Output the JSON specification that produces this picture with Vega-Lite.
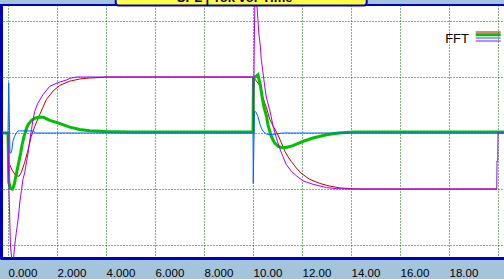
{
  "$schema": "https://vega.github.io/schema/vega-lite/v6.json",
  "width": 506,
  "height": 253,
  "autosize": {"type": "none"},
  "padding": {"left": 0, "top": 5, "right": 0, "bottom": 21},
  "background": "#A4C4DC",
  "config": {"view": {"fill": "#FFFFFF", "stroke": "#0000C0", "strokeWidth": 2}},
  "datasets": {
    "curves": [
      {"s":"Ch1","t":-0.22,"v":0},{"s":"Ch1","t":0,"v":0},{"s":"Ch1","t":0.01,"v":-2},{"s":"Ch1","t":0.15,"v":-2.6},{"s":"Ch1","t":0.3,"v":-3.0},{"s":"Ch1","t":0.45,"v":-3.1},{"s":"Ch1","t":0.55,"v":-2.8},{"s":"Ch1","t":0.68,"v":-2.1},{"s":"Ch1","t":0.82,"v":-1.2},{"s":"Ch1","t":0.95,"v":-0.24},{"s":"Ch1","t":1.09,"v":0.47},{"s":"Ch1","t":1.29,"v":1.3},{"s":"Ch1","t":1.57,"v":2.4},{"s":"Ch1","t":1.84,"v":3.0},{"s":"Ch1","t":2.11,"v":3.4},{"s":"Ch1","t":2.52,"v":3.7},{"s":"Ch1","t":2.93,"v":3.86},{"s":"Ch1","t":3.33,"v":3.93},{"s":"Ch1","t":3.87,"v":3.97},{"s":"Ch1","t":3.95,"v":4.0},{"s":"Ch1","t":10.0,"v":4.0},{"s":"Ch1","t":10.1,"v":3.8},{"s":"Ch1","t":10.27,"v":3.4},{"s":"Ch1","t":10.41,"v":2.5},{"s":"Ch1","t":10.55,"v":1.8},{"s":"Ch1","t":10.68,"v":1.0},{"s":"Ch1","t":10.82,"v":0.5},{"s":"Ch1","t":10.98,"v":0},{"s":"Ch1","t":11.16,"v":-0.7},{"s":"Ch1","t":11.3,"v":-1.3},{"s":"Ch1","t":11.43,"v":-1.7},{"s":"Ch1","t":11.57,"v":-2.05},{"s":"Ch1","t":11.77,"v":-2.5},{"s":"Ch1","t":11.95,"v":-2.85},{"s":"Ch1","t":12.3,"v":-3.3},{"s":"Ch1","t":12.72,"v":-3.6},{"s":"Ch1","t":13.1,"v":-3.78},{"s":"Ch1","t":13.54,"v":-3.92},{"s":"Ch1","t":14.0,"v":-3.98},{"s":"Ch1","t":14.4,"v":-4.0},{"s":"Ch1","t":19.95,"v":-4.0},
      {"s":"Ch2","t":-0.22,"v":0},{"s":"Ch2","t":0,"v":0},{"s":"Ch2","t":0.03,"v":-3.5},{"s":"Ch2","t":0.1,"v":-3.95},{"s":"Ch2","t":0.18,"v":-4.0},{"s":"Ch2","t":0.25,"v":-3.7},{"s":"Ch2","t":0.31,"v":-3.2},{"s":"Ch2","t":0.38,"v":-2.6},{"s":"Ch2","t":0.45,"v":-2.0},{"s":"Ch2","t":0.52,"v":-1.4},{"s":"Ch2","t":0.58,"v":-0.8},{"s":"Ch2","t":0.66,"v":-0.2},{"s":"Ch2","t":0.75,"v":0.3},{"s":"Ch2","t":0.82,"v":0.6},{"s":"Ch2","t":0.96,"v":0.9},{"s":"Ch2","t":1.12,"v":1.07},{"s":"Ch2","t":1.3,"v":1.14},{"s":"Ch2","t":1.45,"v":1.12},{"s":"Ch2","t":1.7,"v":0.9},{"s":"Ch2","t":2.04,"v":0.72},{"s":"Ch2","t":2.52,"v":0.42},{"s":"Ch2","t":2.93,"v":0.25},{"s":"Ch2","t":3.33,"v":0.16},{"s":"Ch2","t":4.0,"v":0.1},{"s":"Ch2","t":5.0,"v":0.07},{"s":"Ch2","t":10.0,"v":0.07},{"s":"Ch2","t":10.02,"v":3.9},{"s":"Ch2","t":10.2,"v":4.16},{"s":"Ch2","t":10.3,"v":3.4},{"s":"Ch2","t":10.37,"v":2.6},{"s":"Ch2","t":10.44,"v":1.9},{"s":"Ch2","t":10.55,"v":1.2},{"s":"Ch2","t":10.61,"v":0.6},{"s":"Ch2","t":10.68,"v":0.15},{"s":"Ch2","t":10.75,"v":-0.24},{"s":"Ch2","t":10.82,"v":-0.5},{"s":"Ch2","t":10.88,"v":-0.71},{"s":"Ch2","t":11.02,"v":-0.95},{"s":"Ch2","t":11.15,"v":-1.03},{"s":"Ch2","t":11.35,"v":-1.03},{"s":"Ch2","t":11.63,"v":-0.9},{"s":"Ch2","t":12.04,"v":-0.6},{"s":"Ch2","t":12.45,"v":-0.36},{"s":"Ch2","t":13.0,"v":-0.12},{"s":"Ch2","t":13.5,"v":0},{"s":"Ch2","t":14.1,"v":0.07},{"s":"Ch2","t":20.3,"v":0.07},
      {"s":"Ch3","t":-0.22,"v":0},{"s":"Ch3","t":0,"v":0},{"s":"Ch3","t":0.03,"v":-3.4},{"s":"Ch3","t":0.1,"v":-8.0},{"s":"Ch3","t":0.18,"v":-9.6},{"s":"Ch3","t":0.23,"v":-8.9},{"s":"Ch3","t":0.27,"v":-8.1},{"s":"Ch3","t":0.34,"v":-7.1},{"s":"Ch3","t":0.41,"v":-6.2},{"s":"Ch3","t":0.48,"v":-5.0},{"s":"Ch3","t":0.55,"v":-4.1},{"s":"Ch3","t":0.61,"v":-3.3},{"s":"Ch3","t":0.68,"v":-2.86},{"s":"Ch3","t":0.75,"v":-2.14},{"s":"Ch3","t":0.82,"v":-1.43},{"s":"Ch3","t":0.89,"v":-0.48},{"s":"Ch3","t":0.96,"v":0.24},{"s":"Ch3","t":1.02,"v":0.95},{"s":"Ch3","t":1.09,"v":1.55},{"s":"Ch3","t":1.22,"v":2.14},{"s":"Ch3","t":1.43,"v":2.74},{"s":"Ch3","t":1.7,"v":3.33},{"s":"Ch3","t":2.04,"v":3.6},{"s":"Ch3","t":2.38,"v":3.78},{"s":"Ch3","t":2.52,"v":3.9},{"s":"Ch3","t":2.79,"v":4.0},{"s":"Ch3","t":10.0,"v":4.0},{"s":"Ch3","t":10.02,"v":0.0},{"s":"Ch3","t":10.05,"v":6.0},{"s":"Ch3","t":10.09,"v":11.0},{"s":"Ch3","t":10.16,"v":9.1},{"s":"Ch3","t":10.2,"v":8.1},{"s":"Ch3","t":10.24,"v":7.1},{"s":"Ch3","t":10.3,"v":6.2},{"s":"Ch3","t":10.34,"v":5.2},{"s":"Ch3","t":10.41,"v":4.3},{"s":"Ch3","t":10.48,"v":3.3},{"s":"Ch3","t":10.55,"v":2.5},{"s":"Ch3","t":10.68,"v":1.67},{"s":"Ch3","t":10.82,"v":0.5},{"s":"Ch3","t":10.96,"v":-0.4},{"s":"Ch3","t":11.09,"v":-1.1},{"s":"Ch3","t":11.22,"v":-1.67},{"s":"Ch3","t":11.36,"v":-2.26},{"s":"Ch3","t":11.57,"v":-2.74},{"s":"Ch3","t":11.77,"v":-3.05},{"s":"Ch3","t":12.04,"v":-3.42},{"s":"Ch3","t":12.45,"v":-3.66},{"s":"Ch3","t":13.0,"v":-3.9},{"s":"Ch3","t":13.4,"v":-3.97},{"s":"Ch3","t":13.81,"v":-4.0},{"s":"Ch3","t":19.95,"v":-4.0},{"s":"Ch3","t":19.96,"v":-2.0},{"s":"Ch3","t":19.99,"v":-2.0},{"s":"Ch3","t":20.0,"v":0},{"s":"Ch3","t":20.3,"v":0},
      {"s":"Ch4","t":-0.22,"v":0},{"s":"Ch4","t":0,"v":0},{"s":"Ch4","t":0.03,"v":3.6},{"s":"Ch4","t":0.08,"v":-1.43},{"s":"Ch4","t":0.12,"v":-1.43},{"s":"Ch4","t":0.16,"v":-1.2},{"s":"Ch4","t":0.2,"v":-0.6},{"s":"Ch4","t":0.27,"v":-0.24},{"s":"Ch4","t":0.34,"v":0},{"s":"Ch4","t":0.41,"v":0.15},{"s":"Ch4","t":1.05,"v":0.15},{"s":"Ch4","t":1.1,"v":0},{"s":"Ch4","t":10.0,"v":0},{"s":"Ch4","t":10.01,"v":-3.6},{"s":"Ch4","t":10.06,"v":1.55},{"s":"Ch4","t":10.12,"v":1.5},{"s":"Ch4","t":10.2,"v":1.19},{"s":"Ch4","t":10.27,"v":0.71},{"s":"Ch4","t":10.34,"v":0.36},{"s":"Ch4","t":10.41,"v":0.12},{"s":"Ch4","t":10.55,"v":-0.07},{"s":"Ch4","t":10.68,"v":-0.12},{"s":"Ch4","t":10.95,"v":-0.07},{"s":"Ch4","t":11.2,"v":0},{"s":"Ch4","t":20.3,"v":0}
    ]
  },
  "layer": [
    {
      "data": {"name": "curves"},
      "transform": [{"filter": "datum.s === 'Ch1'"}],
      "mark": {"type": "line", "color": "#C00000", "strokeWidth": 1, "clip": true},
      "encoding": {
        "x": {"field": "t", "type": "quantitative",
          "scale": {"domain": [-0.3265, 20.3265], "nice": false, "zero": false},
          "axis": {"values": [0,1,2,3,4,5,6,7,8,9,10,11,12,13,14,15,16,17,18,19,20],
            "grid": true, "gridColor": "#006400", "gridDash": [1,2], "gridWidth": 1, "gridOpacity": 1,
            "ticks": false, "tickSize": 0, "domain": true, "domainColor": "#0000C0", "domainWidth": 3,
            "labelExpr": "(datum.value % 2 == 0 && datum.value <= 18) ? (datum.value < 10 ? format(datum.value, '.3f') : format(datum.value, '.2f')) : ''",
            "labelAlign": "left", "labelBaseline": "alphabetic", "labelPadding": 18,
            "labelFont": "Liberation Sans", "labelFontSize": 11.5, "labelColor": "#000000",
            "labelFlush": false, "labelOverlap": false, "title": null}},
        "y": {"field": "v", "type": "quantitative",
          "scale": {"domain": [-8.9286, 9.142857], "nice": false, "zero": false},
          "axis": {"values": [-8,-7,-6,-5,-4,-3,-2,-1,0,1,2,3,4,5,6,7,8,9],
            "grid": true, "gridColor": "#006400", "gridDash": [1,2], "gridWidth": 1, "gridOpacity": 1,
            "ticks": false, "labels": false, "domain": true, "domainColor": "#0000C0", "domainWidth": 5, "title": null}}
      }
    },
    {
      "data": {"name": "curves"},
      "transform": [{"filter": "datum.s === 'Ch2'"}],
      "mark": {"type": "line", "color": "#00C000", "strokeWidth": 3, "clip": true},
      "encoding": {"x": {"field": "t", "type": "quantitative"}, "y": {"field": "v", "type": "quantitative"}}
    },
    {
      "data": {"name": "curves"},
      "transform": [{"filter": "datum.s === 'Ch3'"}],
      "mark": {"type": "line", "color": "#A000FF", "strokeWidth": 1, "clip": true},
      "encoding": {"x": {"field": "t", "type": "quantitative"}, "y": {"field": "v", "type": "quantitative"}}
    },
    {
      "data": {"name": "curves"},
      "transform": [{"filter": "datum.s === 'Ch4'"}],
      "mark": {"type": "line", "color": "#0064FF", "strokeWidth": 1, "clip": true},
      "encoding": {"x": {"field": "t", "type": "quantitative"}, "y": {"field": "v", "type": "quantitative"}}
    },
    {
      "data": {"values": [{"title": "SPL | Tok vor Time"}]},
      "mark": {"type": "rect", "fill": "#FFFF40", "stroke": "#0000C0", "strokeWidth": 2, "cornerRadius": 3, "clip": false},
      "encoding": {
        "x": {"datum": 4.396, "type": "quantitative"}, "x2": {"datum": 14.641},
        "y": {"datum": 10.3, "type": "quantitative"}, "y2": {"datum": 9.1}
      }
    },
    {
      "data": {"values": [{"title": "SPL | Tok vor Time"}]},
      "mark": {"type": "text", "font": "Liberation Sans", "fontSize": 13, "fontWeight": "bold", "color": "#000000", "align": "center", "baseline": "alphabetic", "clip": false},
      "encoding": {
        "x": {"datum": 9.25, "type": "quantitative"},
        "y": {"datum": 9.329, "type": "quantitative"},
        "text": {"field": "title"}
      }
    },
    {
      "data": {"values": [{"name": "FFT"}]},
      "mark": {"type": "text", "font": "Liberation Sans", "fontSize": 13, "color": "#000000", "align": "right", "baseline": "alphabetic"},
      "encoding": {
        "x": {"datum": 18.816, "type": "quantitative"},
        "y": {"datum": 6.43, "type": "quantitative"},
        "text": {"field": "name"}
      }
    },
    {
      "data": {"values": [{"s": "Ch1"}]},
      "mark": {"type": "rule", "color": "#C00000", "strokeWidth": 1},
      "encoding": {"x": {"datum": 19.09, "type": "quantitative"}, "x2": {"datum": 20.11}, "y": {"datum": 7.214, "type": "quantitative"}}
    },
    {
      "data": {"values": [{"s": "Ch2"}]},
      "mark": {"type": "rule", "color": "#00C000", "strokeWidth": 3},
      "encoding": {"x": {"datum": 19.09, "type": "quantitative"}, "x2": {"datum": 20.11}, "y": {"datum": 7.02, "type": "quantitative"}}
    },
    {
      "data": {"values": [{"s": "Ch4"}]},
      "mark": {"type": "rule", "color": "#0064FF", "strokeWidth": 1},
      "encoding": {"x": {"datum": 19.09, "type": "quantitative"}, "x2": {"datum": 20.11}, "y": {"datum": 6.786, "type": "quantitative"}}
    },
    {
      "data": {"values": [{"s": "Ch3"}]},
      "mark": {"type": "rule", "color": "#A000FF", "strokeWidth": 1},
      "encoding": {"x": {"datum": 19.09, "type": "quantitative"}, "x2": {"datum": 20.11}, "y": {"datum": 6.571, "type": "quantitative"}}
    }
  ]
}
